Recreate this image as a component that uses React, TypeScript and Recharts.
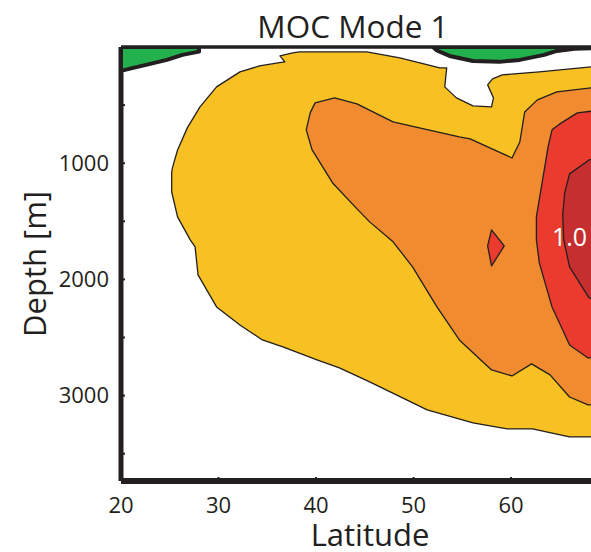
import { ScatterChart, Scatter, XAxis, YAxis } from "recharts"

type Pt = [number, number]

const latTicks = [20, 30, 40, 50, 60]
const topTicks = [30, 40, 50, 60]
const depthTicks = [500, 1000, 1500, 2000, 2500, 3000, 3500]

// contour outlines as [latitude, depth in m]
const yellowLevel: Pt[] = [
  [25.2, 1075], [25.3, 1032], [25.8, 886], [26.8, 696], [28.1, 516], [29.8, 343],
  [32.2, 214], [34.2, 163], [36.1, 137], [36.8, 128], [36.3, 77], [37.6, 51],
  [38.3, 42], [45.2, 42], [48.6, 94], [52.7, 180], [53.4, 180], [53.2, 343],
  [54.4, 438], [56.1, 507], [58.0, 516], [58.2, 438], [57.6, 326], [58.1, 275],
  [59.1, 240], [62.9, 214], [69, 165],
  [69, 3356], [67.9, 3356], [66.0, 3356], [62.2, 3287], [59.6, 3287], [56.1, 3235],
  [51.4, 3123], [45.5, 2882], [42.4, 2762], [40.1, 2693], [36.6, 2581], [34.5, 2521],
  [32.2, 2392], [29.8, 2237], [27.9, 1961], [27.6, 1720], [27.1, 1660], [25.8, 1462],
  [25.2, 1248],
]

const orangeLevel: Pt[] = [
  [39.0, 713], [39.4, 567], [39.9, 481], [41.9, 438], [44.2, 490], [47.9, 645],
  [50.6, 696], [54.7, 774], [55.8, 791], [60.1, 955], [60.9, 817], [61.4, 559],
  [62.7, 455], [64.7, 386], [69, 343],
  [69, 3080], [67.9, 3080], [66.0, 3012], [64.0, 2822], [62.1, 2727], [60.1, 2831],
  [58.0, 2779], [55.8, 2607], [54.7, 2521], [52.4, 2237], [49.9, 1892], [47.9, 1677],
  [45.5, 1505], [44.3, 1402], [41.7, 1170], [39.6, 886],
]

const redLevel: Pt[] = [
  [69, 545], [66.8, 567], [65.0, 662], [64.2, 713], [63.8, 860], [62.6, 1462],
  [62.6, 1660], [62.9, 1858], [64.2, 2237], [65.3, 2435], [66.0, 2564], [67.9, 2676],
  [69, 2676],
]

const redSpot: Pt[] = [[58.0, 1574], [59.3, 1712], [58.0, 1884], [57.6, 1712]]

const darkRedLevel: Pt[] = [
  [69, 950], [68.0, 972], [66.0, 1092], [65.5, 1256], [65.3, 1445], [65.4, 1660],
  [66.0, 1892], [68.0, 2159], [69, 2180],
]

const greenWest: Pt[] = [
  [20, 0], [28.0, 0], [28.0, 40], [26.3, 68], [24.7, 111], [23.0, 145], [20.4, 197], [20, 200],
]

const greenEast: Pt[] = [
  [52.0, 0], [69, 0], [69, 8], [66.5, 15], [64.7, 34], [63.4, 68], [60.9, 111],
  [58.8, 128], [56.1, 120], [53.7, 77], [52.4, 30],
]

const peakLabel = [{ lat: 66.0, depth: 1634, text: "1.0" }]

const toRows = (pts: Pt[]) => pts.map(([lat, depth]) => ({ lat, depth }))

const ink = "#231f20"
const font = "'Open Sans', sans-serif"

function polygon(fill: string, stroke: string, width: number) {
  return (props: any) => {
    const pts: { x: number; y: number }[] = props.points || []
    if (!pts.length) return <g />
    const d = pts.map((p, i) => `${i ? "L" : "M"}${p.x},${p.y}`).join("") + "Z"
    return <path d={d} fill={fill} stroke={stroke} strokeWidth={width} strokeLinejoin="round" />
  }
}

const noDot = () => <g />

const layers = [
  { key: "yellow", pts: yellowLevel, fill: "#f7c123", w: 1.3 },
  { key: "orange", pts: orangeLevel, fill: "#f08c2f", w: 1.3 },
  { key: "red", pts: redLevel, fill: "#ea3b2e", w: 1.3 },
  { key: "spot", pts: redSpot, fill: "#ea3b2e", w: 1.3 },
  { key: "darkred", pts: darkRedLevel, fill: "#c62f2f", w: 1.3 },
  { key: "greenW", pts: greenWest, fill: "#22b14c", w: 4 },
  { key: "greenE", pts: greenEast, fill: "#22b14c", w: 4 },
]

export default function App() {
  return (
    <div style={{ position: "absolute", left: 0, top: 0, width: 591, height: 552, background: "white" }}>
      <ScatterChart width={591} height={552} margin={{ top: 46, right: 0, bottom: 0, left: 0 }}>
        <XAxis
          dataKey="lat"
          type="number"
          domain={[20, 68.2]}
          ticks={latTicks}
          allowDataOverflow
          height={71}
          axisLine={{ stroke: ink, strokeWidth: 6 }}
          tickLine={{ stroke: ink, strokeWidth: 2 }}
          tickSize={-4}
          tickMargin={20}
          tick={{ fontSize: 22, fill: ink, fontFamily: font }}
          label={{ value: "Latitude", position: "insideBottom", offset: 6, dx: 14, fontSize: 31, fill: ink, fontFamily: font }}
        />
        <XAxis
          xAxisId="top"
          orientation="top"
          dataKey="lat"
          type="number"
          domain={[20, 68.2]}
          ticks={topTicks}
          allowDataOverflow
          height={1}
          axisLine={{ stroke: ink, strokeWidth: 3.5 }}
          tickLine={{ stroke: ink, strokeWidth: 2 }}
          tickSize={-4}
          tick={false}
          label={{ value: "MOC Mode 1", position: "top", offset: 8, dx: -3, fontSize: 31.5, fill: ink, fontFamily: font }}
        />
        <YAxis
          dataKey="depth"
          type="number"
          reversed
          domain={[0, 3735]}
          ticks={depthTicks}
          allowDataOverflow
          width={121}
          axisLine={{ stroke: ink, strokeWidth: 5 }}
          tickLine={{ stroke: ink, strokeWidth: 2 }}
          tickSize={-4}
          tickMargin={16}
          tickFormatter={(v) => (v % 1000 === 0 ? String(v) : "")}
          tick={{ fontSize: 22, fill: ink, fontFamily: font }}
          label={{
            value: "Depth [m]",
            angle: -90,
            position: "insideLeft",
            offset: 35,
            style: { textAnchor: "middle" },
            fontSize: 31,
            fill: ink,
            fontFamily: font,
          }}
        />
        {layers.map((l) => (
          <Scatter
            key={l.key}
            data={toRows(l.pts)}
            line={polygon(l.fill, ink, l.w)}
            shape={noDot}
            isAnimationActive={false}
          />
        ))}
        <Scatter
          data={peakLabel}
          isAnimationActive={false}
          shape={(p: any) => (
            <text x={p.cx} y={p.cy + 9} textAnchor="middle" fontSize={25} fill="white" fontFamily={font}>
              {p.payload.text}
            </text>
          )}
        />
      </ScatterChart>
    </div>
  )
}
